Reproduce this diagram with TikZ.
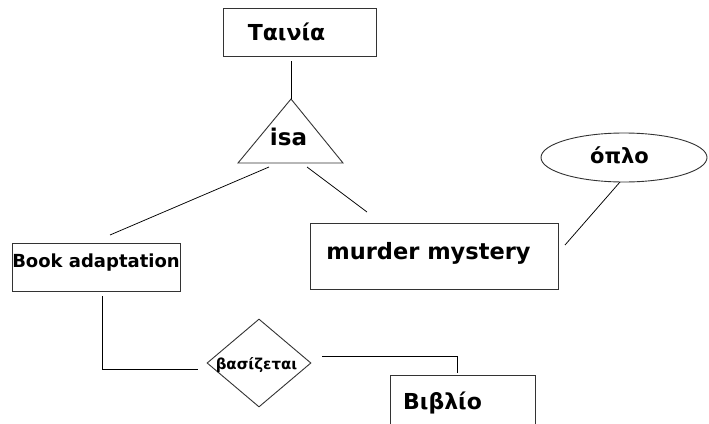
\documentclass[tikz,border=0pt]{standalone}
\usepackage{fontspec}
\setmainfont{DejaVu Sans}
\usetikzlibrary{shapes.geometric,calc}
\begin{document}
\begin{tikzpicture}[x=1pt,y=-1pt,
  ent/.style={draw=black!80, line width=0.9pt, inner sep=0pt},
  lbl/.style={font=\fontsize{#1pt}{#1pt}\selectfont\bfseries, inner sep=0pt},
  conn/.style={draw=black, line width=0.75pt}]
\clip (0,0) rectangle (709,423);
\fill[white] (0,0) rectangle (709,423);
% entities
\node[ent, minimum width=153pt, minimum height=48pt,
      label={[lbl=22, xshift=-13pt]center:Ταινία}] (tainia) at (299.5,32) {};
\node[ent, minimum width=168pt, minimum height=48pt,
      label={[lbl=18, yshift=4pt]center:Book adaptation}] (book) at (96,267) {};
\node[ent, minimum width=248pt, minimum height=66pt,
      label={[lbl=22.5, xshift=-5.5pt, yshift=3pt]center:murder mystery}] (murder) at (434,256) {};
\node[ent, minimum width=145pt, minimum height=66pt,
      label={[lbl=22, xshift=-20pt, yshift=5pt]center:Βιβλίο}] (vivlio) at (462.5,408) {};
% attribute
\node[ent, ellipse, minimum width=166pt, minimum height=49pt,
      label={[lbl=21, xshift=-4.5pt, yshift=2pt]center:όπλο}] (oplo) at (624,157.5) {};
% relationship
\node[ent, diamond, minimum width=104pt, minimum height=88pt,
      label={[lbl=15, xshift=-2.5pt, yshift=-2pt]center:βασίζεται}] (vasizetai) at (259,363) {};
% isa triangle
\coordinate (isatop) at (291,99);
\coordinate (isabl) at (238,163);
\coordinate (isabr) at (343,163);
\draw[ent] (isatop) -- (isabl) -- (isabr) -- cycle;
\node[lbl=23] (isa) at (288.5,137) {isa};
% connector ends
\coordinate (tainiaEnd) at (291,61);
\coordinate (isaL) at (269,167);
\coordinate (bookTop) at (110,235);
\coordinate (isaR) at (307,167);
\coordinate (murderTop) at (367,212);
\coordinate (oploEnd) at (620,182);
\coordinate (murderRight) at (565,245);
\coordinate (bookBot) at (102,296);
\coordinate (vasL) at (198,369);
\coordinate (vasR) at (322,356);
\coordinate (vivlioTop) at (457,373);
% connectors
\draw[conn] (tainiaEnd) -- (isatop);
\draw[conn] (isaL) -- (bookTop);
\draw[conn] (isaR) -- (murderTop);
\draw[conn] (oploEnd) -- (murderRight);
\draw[conn] (bookBot) |- (vasL);
\draw[conn] (vasR) -| (vivlioTop);
\end{tikzpicture}
\end{document}
